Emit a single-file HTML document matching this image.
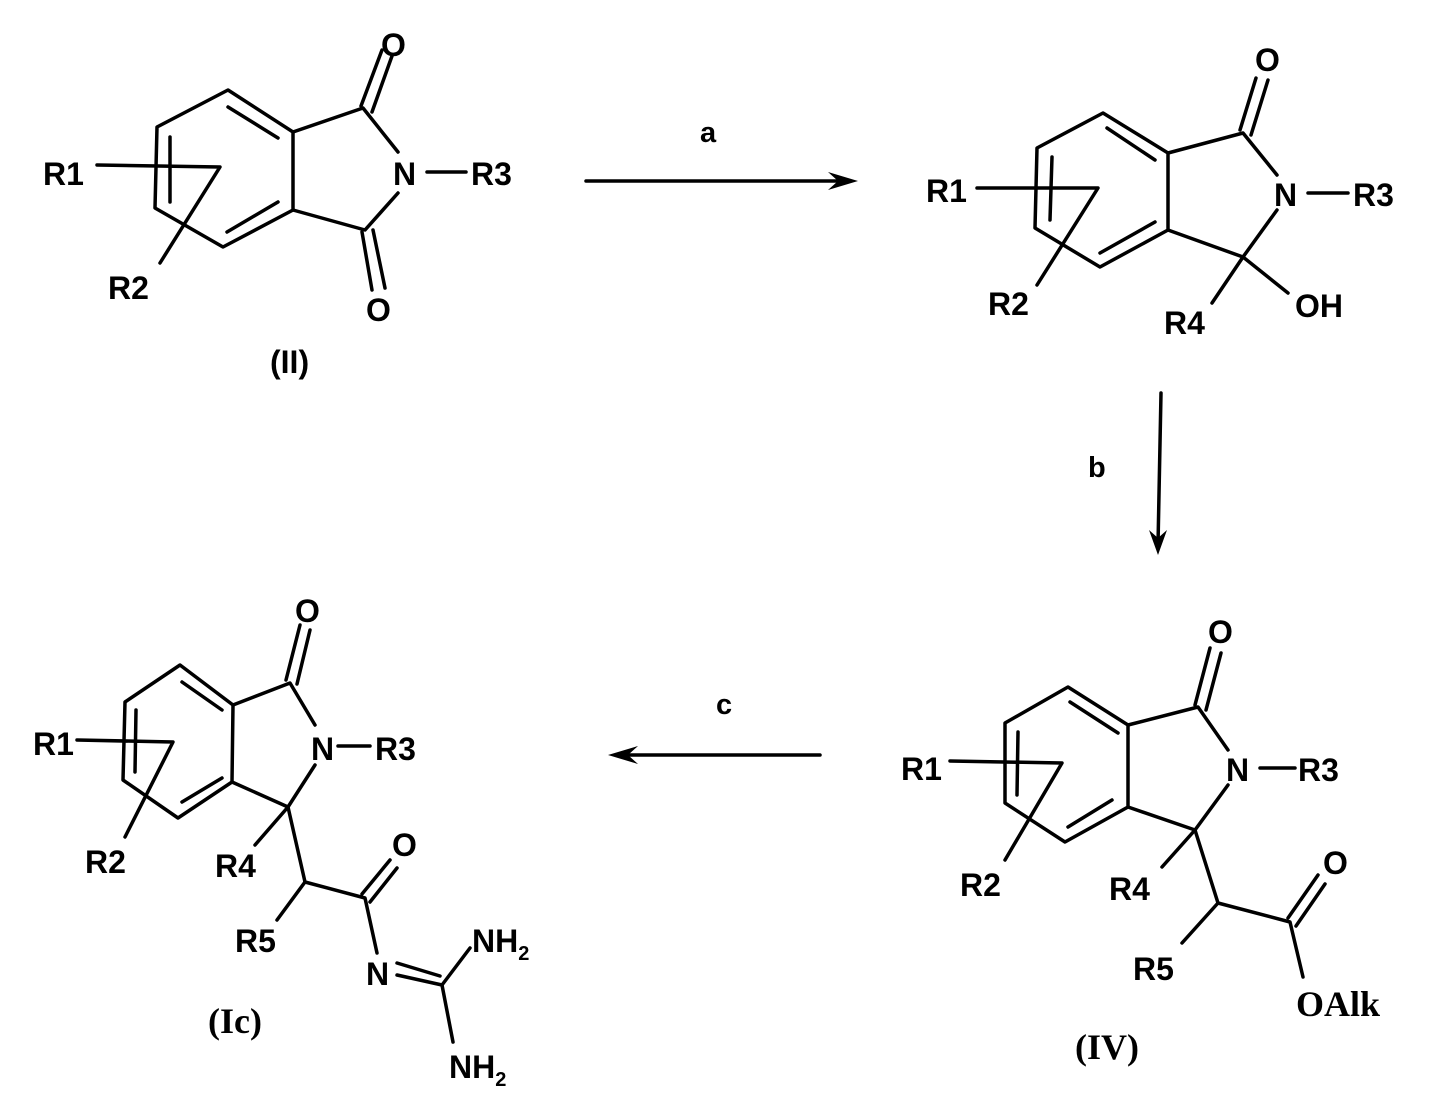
<!DOCTYPE html>
<html><head><meta charset="utf-8"><style>
html,body{margin:0;padding:0;background:#fff;}
svg{display:block;}
text{font-family:"Liberation Sans",Arial,sans-serif;font-weight:bold;font-size:32px;fill:#000;}
.s{font-family:"Liberation Serif",serif;font-size:36px;}
.sub{font-size:20px;}
</style></head><body>
<svg width="1445" height="1117" viewBox="0 0 1445 1117" xmlns="http://www.w3.org/2000/svg">
<g stroke="#000" stroke-width="3.5" fill="none" stroke-linecap="round" stroke-linejoin="round">
<!-- II -->
<polygon points="228,90 157,127 155,208 223,247 293,210 293,132"/>
<line x1="228" y1="107" x2="278" y2="138"/>
<line x1="170" y1="137" x2="170" y2="202"/>
<line x1="227" y1="232" x2="278" y2="202"/>
<polyline points="293,132 363,108 398,152"/>
<polyline points="293,210 365,230 398,193"/>
<line x1="361" y1="106" x2="382" y2="50"/>
<line x1="372" y1="112" x2="392" y2="56"/>
<line x1="362" y1="232" x2="372" y2="290"/>
<line x1="373" y1="230" x2="385" y2="288"/>
<line x1="427" y1="172" x2="466" y2="172"/>
<polyline points="97,165 220,167 160,263"/>
<!-- III -->
<polygon points="1103,113 1037,148 1035,228 1100,267 1168,230 1168,153"/>
<line x1="1107" y1="128" x2="1155" y2="160"/>
<line x1="1052" y1="157" x2="1050" y2="220"/>
<line x1="1100" y1="253" x2="1155" y2="222"/>
<polyline points="1168,153 1243,133 1277,175"/>
<polyline points="1168,230 1243,257 1277,210"/>
<line x1="1240" y1="130" x2="1256" y2="78"/>
<line x1="1251" y1="135" x2="1268" y2="80"/>
<line x1="1308" y1="193" x2="1348" y2="193"/>
<line x1="1243" y1="257" x2="1212" y2="303"/>
<line x1="1243" y1="257" x2="1288" y2="293"/>
<polyline points="977,188 1098,188 1037,285"/>
<!-- IV -->
<polygon points="1068,687 1005,723 1005,803 1065,842 1128,807 1128,725"/>
<line x1="1070" y1="702" x2="1118" y2="733"/>
<line x1="1018" y1="732" x2="1017" y2="795"/>
<line x1="1068" y1="827" x2="1112" y2="800"/>
<polyline points="1128,725 1198,707 1228,750"/>
<polyline points="1128,807 1195,830 1228,785"/>
<line x1="1195" y1="705" x2="1210" y2="648"/>
<line x1="1206" y1="710" x2="1221" y2="653"/>
<line x1="1260" y1="768" x2="1295" y2="768"/>
<line x1="1195" y1="830" x2="1162" y2="867"/>
<polyline points="1195,830 1218,903 1290,922 1303,977"/>
<line x1="1218" y1="903" x2="1182" y2="943"/>
<line x1="1288" y1="918" x2="1318" y2="875"/>
<line x1="1296" y1="926" x2="1325" y2="884"/>
<polyline points="950,761 1062,763 1005,860"/>
<!-- Ic -->
<polygon points="180,665 125,702 123,780 178,818 232,782 233,705"/>
<line x1="182" y1="682" x2="222" y2="710"/>
<line x1="136" y1="710" x2="135" y2="772"/>
<line x1="182" y1="802" x2="222" y2="778"/>
<polyline points="233,705 290,683 315,725"/>
<polyline points="232,782 288,807 315,765"/>
<line x1="286" y1="680" x2="300" y2="625"/>
<line x1="297" y1="684" x2="310" y2="630"/>
<line x1="338" y1="746" x2="370" y2="746"/>
<line x1="288" y1="807" x2="255" y2="845"/>
<polyline points="288,807 305,882 365,898 377,953"/>
<line x1="305" y1="882" x2="277" y2="920"/>
<line x1="362" y1="894" x2="390" y2="860"/>
<line x1="370" y1="902" x2="397" y2="868"/>
<line x1="397" y1="963" x2="440" y2="976"/>
<line x1="397" y1="975" x2="442" y2="985"/>
<line x1="442" y1="985" x2="470" y2="948"/>
<line x1="442" y1="985" x2="453" y2="1042"/>
<polyline points="77,740 173,742 125,837"/>
<!-- arrows -->
<line x1="586" y1="181" x2="850" y2="181"/>
<line x1="1161" y1="393" x2="1158" y2="545"/>
<line x1="617" y1="755" x2="820" y2="755"/>
</g>
<g fill="#000">
<polygon points="858,181 828,172 838,181 828,190"/>
<polygon points="1158,555 1149,530 1158,538 1167,530"/>
<polygon points="608,755 638,746 628,755 638,764"/>
</g>
<!-- labels II -->
<text x="43" y="185">R1</text>
<text x="381" y="56">O</text>
<text x="393" y="185">N</text>
<text x="471" y="185">R3</text>
<text x="108" y="299">R2</text>
<text x="366" y="321">O</text>
<text x="270" y="373">(II)</text>
<text x="700" y="142" style="font-size:29px">a</text>
<!-- III -->
<text x="926" y="202">R1</text>
<text x="1255" y="71">O</text>
<text x="1274" y="206">N</text>
<text x="1353" y="206">R3</text>
<text x="988" y="315">R2</text>
<text x="1164" y="334">R4</text>
<text x="1295" y="317">OH</text>
<text x="1088" y="477" style="font-size:29px">b</text>
<!-- IV -->
<text x="901" y="780">R1</text>
<text x="1208" y="643">O</text>
<text x="1226" y="781">N</text>
<text x="1298" y="781">R3</text>
<text x="960" y="896">R2</text>
<text x="1109" y="900">R4</text>
<text x="1323" y="874">O</text>
<text x="1133" y="980">R5</text>
<text class="s" x="1296" y="1016">OAlk</text>
<text class="s" x="1075" y="1059">(IV)</text>
<text x="716" y="714" style="font-size:29px">c</text>
<!-- Ic -->
<text x="33" y="755">R1</text>
<text x="295" y="622">O</text>
<text x="311" y="760">N</text>
<text x="375" y="760">R3</text>
<text x="85" y="873">R2</text>
<text x="215" y="877">R4</text>
<text x="392" y="856">O</text>
<text x="235" y="952">R5</text>
<text x="366" y="985">N</text>
<text x="472" y="952">NH<tspan class="sub" dy="8">2</tspan></text>
<text x="449" y="1078">NH<tspan class="sub" dy="8">2</tspan></text>
<text class="s" x="208" y="1033">(Ic)</text>
</svg>
</body></html>
